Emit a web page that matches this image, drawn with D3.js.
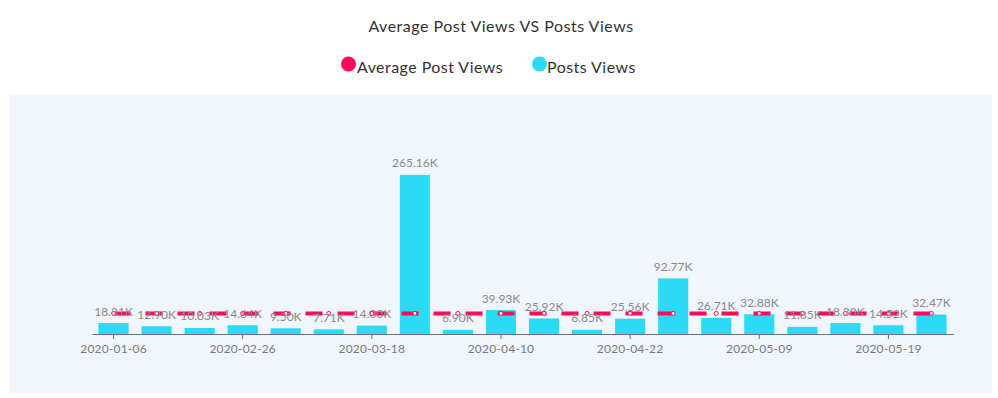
<html><head>
<title>Average Post Views VS Posts Views</title>
<script src="https://d3js.org/d3.v7.min.js"></script>
<style>
  body { margin: 0; background: #fff; }
  svg text { font-family: Lato, "Open Sans", sans-serif; }
</style>
</head>
<body>
<svg id="chart" width="998" height="398"></svg>
<script>

// dates on the x axis (only every third one is labelled)
const dates = ["2020-01-06","2020-01-20","2020-02-05","2020-02-26","2020-03-03","2020-03-10",
               "2020-03-18","2020-03-26","2020-04-02","2020-04-10","2020-04-14","2020-04-17",
               "2020-04-22","2020-04-28","2020-05-04","2020-05-09","2020-05-12","2020-05-15",
               "2020-05-19","2020-05-26"];
const postsViews = [18310, 12900, 10030, 14640, 9500, 7710, 14000, 265160, 6900, 39930,
                    25920, 6850, 25560, 92770, 26710, 32880, 11850, 18300, 14520, 32470];
const avgViews = [34345, 34345, 34345, 34345, 34345, 34345, 34345, 34345, 34345, 34345,
                  34345, 34345, 34345, 34345, 34345, 34345, 34345, 34345, 34345, 34345];
const tickDates = ["2020-01-06","2020-02-26","2020-03-18","2020-04-10","2020-04-22","2020-05-09","2020-05-19"];
const seriesNames = ["Average Post Views", "Posts Views"];

const pink = "#fe0b5c";
const cyan = "#2bdbf6";

const svg = d3.select("#chart");

// panel background
svg.append("rect")
   .attr("x", 10).attr("y", 95)
   .attr("width", 982).attr("height", 298)
   .attr("fill", "#f1f5fc");

// title
svg.append("text")
   .attr("x", 501).attr("y", 31.5)
   .attr("text-anchor", "middle")
   .attr("font-size", 16)
   .attr("letter-spacing", 0.5)
   .attr("fill", "#333")
   .text("Average Post Views VS Posts Views");

// legend
const legendItems = [
  { name: seriesNames[0], color: pink, cx: 348.5, tx: 357 },
  { name: seriesNames[1], color: cyan, cx: 539.5, tx: 547 }
];
const legend = svg.append("g").attr("class", "legend");
legend.selectAll("circle").data(legendItems)
  .join("circle")
  .attr("cx", d => d.cx).attr("cy", 64)
  .attr("r", 7.5)
  .attr("fill", d => d.color);
legend.selectAll("text").data(legendItems)
  .join("text")
  .attr("x", d => d.tx).attr("y", 72.5)
  .attr("font-size", 16)
  .attr("letter-spacing", 0.45)
  .attr("fill", "#333")
  .text(d => d.name);

// scales
const x = d3.scaleBand().domain(dates).range([92, 953]).paddingInner(0.3).paddingOuter(0.15);
const y = d3.scaleLinear().domain([0, 300000]).range([334, 154]);

// bars
svg.append("g").selectAll("rect").data(postsViews)
  .join("rect")
  .attr("x", (d, i) => x(dates[i]))
  .attr("y", d => y(d))
  .attr("width", x.bandwidth())
  .attr("height", d => y(0) - y(d))
  .attr("fill", cyan);

// x axis
const xAxis = d3.axisBottom(x).tickValues(tickDates).tickSize(5).tickSizeOuter(0).tickPadding(5);
const axisG = svg.append("g")
  .attr("transform", "translate(0," + y(0) + ")")
  .call(xAxis);
axisG.select(".domain").attr("stroke", "#6e7079");
axisG.selectAll(".tick line").attr("stroke", "#6e7079");
axisG.selectAll(".tick text")
  .attr("fill", "#7a7a7a")
  .attr("font-size", 12)
  .attr("letter-spacing", 0.2)
  .attr("font-family", "Lato, 'Open Sans', sans-serif");

// average line
const line = d3.line()
  .x((d, i) => x(dates[i]) + x.bandwidth() / 2)
  .y(d => y(d));
svg.append("path")
  .datum(avgViews)
  .attr("d", line)
  .attr("fill", "none")
  .attr("stroke", pink)
  .attr("stroke-width", 4)
  .attr("stroke-dasharray", "17,15");

// line markers
svg.append("g").selectAll("circle").data(avgViews)
  .join("circle")
  .attr("cx", (d, i) => x(dates[i]) + x.bandwidth() / 2)
  .attr("cy", d => y(d))
  .attr("r", 2)
  .attr("fill", "#fff")
  .attr("stroke", pink)
  .attr("stroke-width", 1);

// bar value labels
const fmt = v => d3.format(".2f")(v / 1000) + "K";
svg.append("g").selectAll("text").data(postsViews)
  .join("text")
  .attr("x", (d, i) => x(dates[i]) + x.bandwidth() / 2)
  .attr("y", d => y(d) - 7.5)
  .attr("text-anchor", "middle")
  .attr("font-size", 12)
  .attr("fill", "#8a8a8a")
  .text(d => fmt(d));

</script>
</body>
</html>
